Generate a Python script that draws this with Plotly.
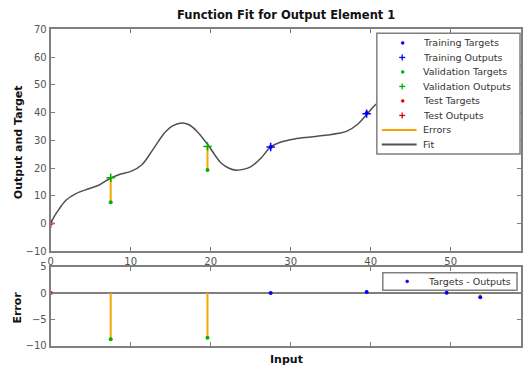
import plotly.graph_objects as go

# ---- data ----
fit_x = [0, 0.5, 1, 1.9, 3.1, 4.75, 6, 7.45, 8.5, 10.1, 11.4, 12.6, 13.5, 14.3, 15.3,
         16.4, 17.3, 18.3, 19.7, 20.5, 21.3, 22.3, 23.2, 24.2, 25.1, 26.3, 27.5, 28.7,
         30.5, 32.5, 34.6, 36, 37.1, 38.3, 39.6, 40.6, 42, 44, 46, 48, 50, 52, 54, 56, 58.8]
fit_y = [0, 2.8, 5, 8.4, 10.7, 12.5, 13.8, 16.3, 17.6, 18.9, 21.2, 25.9, 29.8, 32.9, 35.3,
         36.2, 35.6, 33.2, 28.2, 24.8, 21.8, 19.9, 19.2, 19.6, 20.6, 23.6, 27.6, 29.3,
         30.5, 31.2, 31.9, 32.5, 33.4, 35.6, 39.6, 42.8, 45.5, 47.5, 48.8, 49.8, 50.8, 51.8, 53, 54.5, 57]

train_x = [27.5, 39.5, 49.5, 53.7]
train_target = [27.6, 39.8, 50.8, 52.0]
train_output = [27.6, 39.6, 50.75, 52.8]

val_x = [7.5, 19.6]
val_target = [7.7, 19.3]
val_output = [16.5, 27.8]

test_x = [0]
test_target = [0]
test_output = [0]

x_ticks = [0, 10, 20, 30, 40, 50]
y_ticks_top = [-10, 0, 10, 20, 30, 40, 50, 60, 70]
y_ticks_err = [-10, -5, 0, 5]

legend_labels = ["Training Targets", "Training Outputs", "Validation Targets",
                 "Validation Outputs", "Test Targets", "Test Outputs", "Errors", "Fit"]
err_legend_label = "Targets - Outputs"

# ---- derived ----
all_x = train_x + val_x + test_x
all_t = train_target + val_target + test_target
all_o = train_output + val_output + test_output
err = [t - o for t, o in zip(all_t, all_o)]

BLUE = "#0000ff"
GREEN = "#00b000"
RED = "#e00000"
ORANGE = "#f0a800"
FITC = "#505050"
AXC = "#7f7f7f"
TXT = "#333333"
FONT = "DejaVu Sans"

W, H = 523, 374
def px(x):
    return x / W
def py(y):
    return 1 - y / H

def seg(xs, y0s, y1s):
    sx, sy = [], []
    for x, a, b in zip(xs, y0s, y1s):
        sx += [x, x, None]
        sy += [a, b, None]
    return sx, sy

fig = go.Figure()

# Top panel
ex, ey = seg(all_x, all_t, all_o)
fig.add_trace(go.Scatter(x=ex, y=ey, mode="lines", showlegend=False,
                         line=dict(color=ORANGE, width=2)))
fig.add_trace(go.Scatter(x=fit_x, y=fit_y, mode="lines", line_shape="spline", showlegend=False,
                         line=dict(color=FITC, width=1.5)))
for xs, ts, os_, c in [(train_x, train_target, train_output, BLUE),
                       (val_x, val_target, val_output, GREEN),
                       (test_x, test_target, test_output, RED)]:
    fig.add_trace(go.Scatter(x=xs, y=ts, mode="markers", showlegend=False,
                             marker=dict(color=c, size=4, symbol="circle")))
    fig.add_trace(go.Scatter(x=xs, y=os_, mode="markers", showlegend=False,
                             marker=dict(color=c, size=6, symbol="cross-thin", line=dict(color=c, width=1.5))))

# Bottom panel
bx, by = seg(all_x, [0] * len(all_x), err)
fig.add_trace(go.Scatter(x=bx, y=by, mode="lines", showlegend=False,
                         line=dict(color=ORANGE, width=2), xaxis="x2", yaxis="y2"))
colors = [BLUE] * len(train_x) + [GREEN] * len(val_x) + [RED] * len(test_x)
fig.add_trace(go.Scatter(x=all_x, y=err, mode="markers", showlegend=False,
                         marker=dict(color=colors, size=4), xaxis="x2", yaxis="y2"))

# ---- hand-built legends (MATLAB-like compact boxes) ----
shapes = []
annotations = []
shapes.append(dict(type="rect", xref="paper", yref="paper", x0=px(376), x1=px(520), y0=py(153), y1=py(29),
                   fillcolor="white", line=dict(color=AXC, width=1.5), layer="above"))
kinds = [("dot", BLUE), ("plus", BLUE), ("dot", GREEN), ("plus", GREEN),
         ("dot", RED), ("plus", RED), ("line", ORANGE), ("line", FITC)]
for i, (lab, (kind, c)) in enumerate(zip(legend_labels, kinds)):
    yc = 39 + i * 14.9
    if kind == "dot":
        shapes.append(dict(type="circle", xref="paper", yref="paper", x0=px(400.5), x1=px(403.5),
                           y0=py(yc + 1.5), y1=py(yc - 1.5), fillcolor=c, line=dict(color=c, width=0.5), layer="above"))
    elif kind == "plus":
        shapes.append(dict(type="line", xref="paper", yref="paper", x0=px(398.5), x1=px(404.5),
                           y0=py(yc), y1=py(yc), line=dict(color=c, width=1.3), layer="above"))
        shapes.append(dict(type="line", xref="paper", yref="paper", x0=px(401.5), x1=px(401.5),
                           y0=py(yc - 3), y1=py(yc + 3), line=dict(color=c, width=1.3), layer="above"))
    else:
        shapes.append(dict(type="line", xref="paper", yref="paper", x0=px(381), x1=px(416),
                           y0=py(yc), y1=py(yc), line=dict(color=c, width=2), layer="above"))
    annotations.append(dict(text=lab, x=px(420), y=py(yc), xref="paper", yref="paper",
                            xanchor="left", yanchor="middle", showarrow=False,
                            font=dict(family=FONT, size=9.5, color=TXT)))

shapes.append(dict(type="rect", xref="paper", yref="paper", x0=px(382), x1=px(517), y0=py(293), y1=py(275),
                   fillcolor="white", line=dict(color=AXC, width=1.5), layer="above"))
shapes.append(dict(type="circle", xref="paper", yref="paper", x0=px(405), x1=px(408),
                   y0=py(285.5), y1=py(282.5), fillcolor=BLUE, line=dict(color=BLUE, width=0.5), layer="above"))
annotations.append(dict(text=err_legend_label, x=px(425), y=py(284), xref="paper", yref="paper",
                        xanchor="left", yanchor="middle", showarrow=False,
                        font=dict(family=FONT, size=9.5, color=TXT)))

# ---- titles / labels ----
annotations += [
    dict(text="<b>Function Fit for Output Element 1</b>", x=px(285), y=py(10),
         font=dict(family=FONT, size=11.5, color="#111111")),
    dict(text="<b>Output and Target</b>", x=px(15), y=py(141), textangle=-90,
         font=dict(family=FONT, size=11, color="#111111")),
    dict(text="<b>Error</b>", x=px(15), y=py(311), textangle=-90,
         font=dict(family=FONT, size=11, color="#111111")),
    dict(text="<b>Input</b>", x=px(285), y=py(364),
         font=dict(family=FONT, size=11, color="#111111")),
]
for a in annotations[-4:]:
    a.update(xref="paper", yref="paper", showarrow=False, xanchor="center", yanchor="middle")

xdom = [px(48), px(521)]
axis_common = dict(showline=True, linecolor=AXC, linewidth=2, mirror="ticks", ticks="inside",
                   ticklen=4, tickcolor=AXC, tickwidth=1, showgrid=False, zeroline=False,
                   tickfont=dict(family=FONT, size=10, color="#555555"))

fig.update_layout(
    width=W, height=H, margin=dict(l=0, r=0, t=0, b=0),
    paper_bgcolor="white", plot_bgcolor="white",
    font=dict(family=FONT), showlegend=False,
    xaxis=dict(domain=xdom, range=[0, 58.8], tickvals=x_ticks, anchor="y", **axis_common),
    yaxis=dict(domain=[py(253), py(25)], range=[-10, 70], tickvals=y_ticks_top,
               anchor="x", **axis_common),
    xaxis2=dict(domain=xdom, range=[0, 58.8], tickvals=x_ticks, showticklabels=False,
                anchor="y2", **axis_common),
    yaxis2=dict(domain=[py(350), py(269)], range=[-10, 5], tickvals=y_ticks_err,
                anchor="x2", **{**axis_common, "zeroline": True, "zerolinecolor": AXC, "zerolinewidth": 2}),
    shapes=shapes,
    annotations=annotations,
)

fig.write_html("out.html")
